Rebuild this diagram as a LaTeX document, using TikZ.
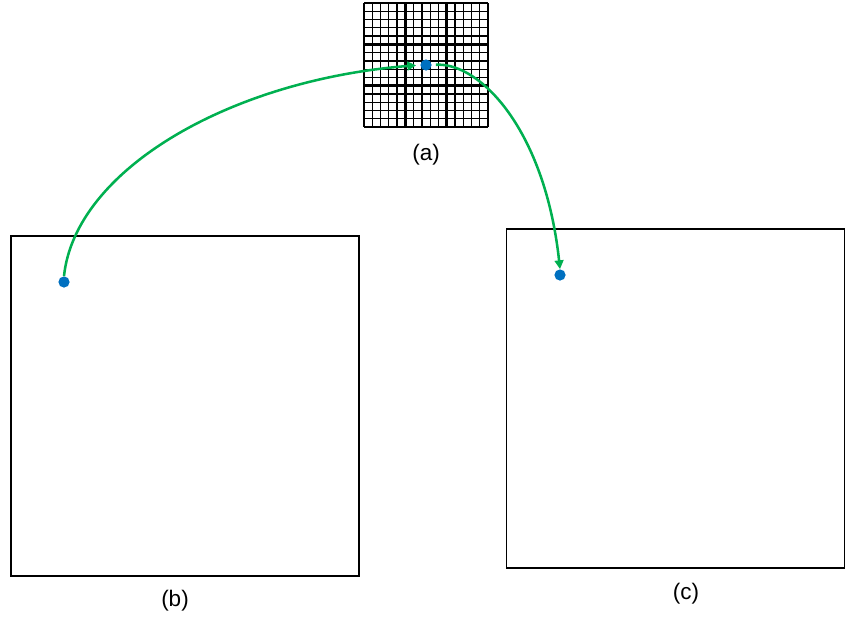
\documentclass[tikz,border=0pt]{standalone}
\usepackage{fontspec}
\setmainfont{Liberation Sans}
\usetikzlibrary{
  arrows.meta,
  positioning
}
\definecolor{ink}{HTML}{000000}
\definecolor{arc}{HTML}{00B050}
\definecolor{spot}{HTML}{0070C0}
\tikzset{
  panel/.style={
    draw=ink,
    line width=1.1pt,
    inner sep=0pt,
    outer sep=0pt
  },
  pixel/.style={
    circle,
    fill=spot,
    inner sep=0pt,
    minimum size=2.8mm
  },
  link/.style={
    -{Triangle[length=2.2mm,width=2.2mm]},
    line width=1.8pt,
    draw=arc
  },
  caption/.style={
    font=\fontsize{16}{19}\selectfont,
    inner sep=0pt
  },
  fine/.style={draw=ink, line width=0.9pt},
  coarse/.style={draw=ink, line width=2pt}
}

\begin{document}
\begin{tikzpicture}[x=0.025cm, y=0.025cm]
  \useasboundingbox (0,0) rectangle (846,-619);
  % kernel grid (a)
  \foreach \i in {1,...,14} {
    \draw[fine] (364+\i*124/15,-3) -- (364+\i*124/15,-127);
    \draw[fine] (364,-3-\i*124/15) -- (488,-3-\i*124/15);
  }
  \foreach \i in {0,5,10,15} {
    \draw[coarse] (364+\i*124/15,-3) -- (364+\i*124/15,-127);
    \draw[coarse] (364,-3-\i*124/15) -- (488,-3-\i*124/15);
  }
  \node[inner sep=0pt, minimum size=3.1cm] (grid) at (426,-65) {};
  \node[caption] (capa) at (426,-155) {(a)};
  % panels (b) and (c)
  \node[panel, minimum width=8.7cm, minimum height=8.5cm] (panelb) at (185,-406) {};
  \node[caption] (capb) at (175,-601) {(b)};
  \node[panel, minimum width=8.45cm, minimum height=8.475cm] (panelc) at (675.5,-398.5) {};
  \node[caption] (capc) at (686,-594) {(c)};
  % pixels
  \node[pixel] (dota) at (426,-65) {};
  \node[pixel] (dotb) at (64,-282) {};
  \node[pixel] (dotc) at (560,-275) {};
  \draw[link, shorten >=1mm] (dotb.north) .. controls (75,-170) and (230,-80) .. (dota.west);
  \draw[link, shorten <=1mm] (dota.east) .. controls (480,-62) and (545,-130) .. (dotc.north);
\end{tikzpicture}
\end{document}
